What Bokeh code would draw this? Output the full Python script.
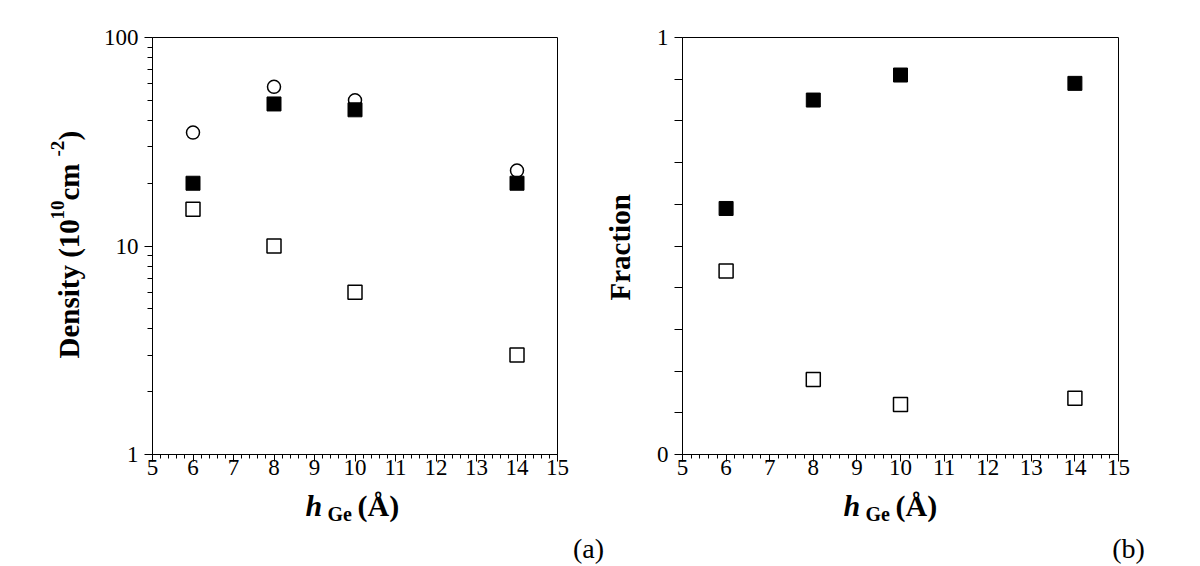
import math
from bokeh.plotting import figure
from bokeh.layouts import row, column
from bokeh.models import (FixedTicker, Label, Range1d)
from bokeh.embed import file_html
from bokeh.resources import INLINE

# ---- data ----
h_ge = [6, 8, 10, 14]
density_total = [35, 58, 50, 23]       # open circles
density_filled = [20, 48, 45, 20]      # filled squares
density_open = [15, 10, 6, 3]          # open squares
fraction_filled = [0.59, 0.85, 0.91, 0.89]
fraction_open = [0.44, 0.18, 0.12, 0.135]

x_ticks = list(range(5, 16))
left_y_ticks = [1, 10, 100]
right_y_ticks = [0, 1]

SERIF = "Liberation Serif"
PH = 486          # height of the plot row
TOP = 37
FH = 417
BOT = PH - TOP - FH
TH = 78           # height of the title row
ang = math.pi / 2


def style_axes(p):
    p.outline_line_color = "black"
    p.outline_line_width = 1
    p.grid.visible = False
    p.background_fill_color = "white"
    p.border_fill_color = "white"
    for ax in p.axis:
        ax.axis_line_color = "black"
        ax.axis_line_width = 1
        ax.major_tick_line_color = "black"
        ax.minor_tick_line_color = "black"
        ax.major_tick_in = 0
        ax.minor_tick_in = 0
        ax.major_label_text_font = SERIF
        ax.major_label_text_font_size = "23px"
        ax.major_label_text_color = "black"
    p.xaxis.ticker = FixedTicker(ticks=x_ticks,
                                 minor_ticks=[5 + i * 0.2 for i in range(51)])
    p.xaxis.major_tick_out = 7
    p.xaxis.minor_tick_out = 4
    p.xaxis.major_label_standoff = -2


def text_fig(w, h, top=0, bottom=0):
    f = figure(width=w, height=h, x_range=Range1d(0, w), y_range=Range1d(0, h),
               x_axis_location=None, y_axis_location=None,
               output_backend="svg", toolbar_location=None,
               min_border_left=0, min_border_right=0,
               min_border_top=top, min_border_bottom=bottom,
               outline_line_color=None)
    f.grid.visible = False
    f.border_fill_color = "white"
    f.background_fill_color = "white"
    return f


def add_lbl(p, text, x, y, size, style="bold", angle=0.0, font=SERIF,
            align="left"):
    p.add_layout(Label(x=x, y=y, x_units="screen", y_units="screen", text=text,
                       text_font=font, text_font_size=f"{size}px",
                       text_font_style=style, text_color="black", angle=angle,
                       text_align=align, text_baseline="middle"))


def x_title(p, x0, ym):
    add_lbl(p, "h", x0, ym, 30, "bold italic")
    add_lbl(p, "Ge", x0 + 22, ym - 8, 20, "bold")
    add_lbl(p, "(Å)", x0 + 52, ym, 30, "bold")


# ---- panel (a) ----
p1 = figure(width=505, height=PH, y_axis_type="log",
            x_range=Range1d(5, 15), y_range=Range1d(1, 100),
            output_backend="svg", toolbar_location=None,
            min_border_left=50, min_border_right=48,
            min_border_top=TOP, min_border_bottom=BOT)
style_axes(p1)
minor_log = [m * d for d in (1, 10) for m in range(2, 10)]
p1.yaxis.ticker = FixedTicker(ticks=left_y_ticks, minor_ticks=minor_log)
p1.yaxis.major_label_overrides = {t: str(t) for t in left_y_ticks}
p1.yaxis.major_tick_out = 8
p1.yaxis.minor_tick_out = 5
p1.yaxis.major_label_standoff = 6

p1.scatter(h_ge, density_total, marker="circle", size=13, fill_color="white",
           line_color="black", line_width=1.5)
p1.scatter(h_ge, density_filled, marker="square", size=14, fill_color="black",
           line_color="black")
p1.scatter(h_ge, density_open, marker="square", size=14, fill_color="white",
           line_color="black", line_width=1.5)

# y title of (a): frame spans page y 37..454, x 0..100
yt1 = text_fig(100, PH, TOP, BOT)
bx, y0 = 68, 96
add_lbl(yt1, "Density (10", bx, y0, 29, angle=ang)
add_lbl(yt1, "10", bx - 11, y0 + 139, 19, angle=ang)
add_lbl(yt1, " cm", bx, y0 + 158, 29, angle=ang)
add_lbl(yt1, "-2", bx - 11, y0 + 202, 19, angle=ang)
add_lbl(yt1, ")", bx, y0 + 218, 29, angle=ang)

# ---- panel (b) ----
p2 = figure(width=542, height=PH,
            x_range=Range1d(5, 15), y_range=Range1d(0, 1),
            output_backend="svg", toolbar_location=None,
            min_border_left=32, min_border_right=74,
            min_border_top=TOP, min_border_bottom=BOT)
style_axes(p2)
p2.yaxis.ticker = FixedTicker(ticks=right_y_ticks,
                              minor_ticks=[i / 10 for i in range(1, 10)])
p2.yaxis.major_label_overrides = {0: "0", 1: "1"}
p2.yaxis.major_tick_out = 8
p2.yaxis.minor_tick_out = 8
p2.yaxis.major_label_standoff = 6

p2.scatter(h_ge, fraction_filled, marker="square", size=14, fill_color="black",
           line_color="black")
p2.scatter(h_ge, fraction_open, marker="square", size=14, fill_color="white",
           line_color="black", line_width=1.5)

yt2 = text_fig(45, PH, TOP, BOT)
add_lbl(yt2, "Fraction", 14, 154, 29, angle=ang)

# ---- bottom titles ----
bt1 = text_fig(605, TH)
x_title(bt1, 305, 59)
add_lbl(bt1, "(a)", 588, 16, 28, "normal", align="center")

bt2 = text_fig(587, TH)
x_title(bt2, 238, 59)
add_lbl(bt2, "(b)", 523, 16, 28, "normal", align="center")

layout = column(row(yt1, p1, yt2, p2), row(bt1, bt2))
open("out.html", "w").write(file_html(layout, INLINE))
